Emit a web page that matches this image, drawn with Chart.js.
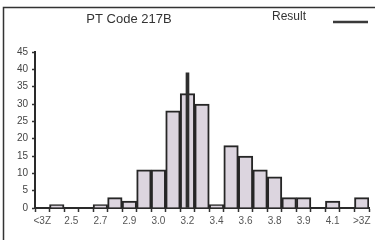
<!DOCTYPE html>
<html lang="en">
<head>
    <meta charset="UTF-8">
    <title>PT Code 217B</title>
    <script src="https://cdn.jsdelivr.net/npm/chart.js"></script>
    <style>
        html, body { margin: 0; padding: 0; background: #ffffff; }
        #wrap { width: 375px; height: 240px; }
    </style>
</head>
<body>
    <div id="wrap"><canvas id="histChart" width="375" height="240"></canvas></div>

    <script>
        // Datos del histograma (una barra por intervalo)
        const binLabels = ['<3Z', '', '2.5', '', '2.7', '', '2.9', '', '3.0', '', '3.2', '',
                           '3.4', '', '3.6', '', '3.8', '', '3.9', '', '4.1', '', '>3Z'];
        const counts = [0, 1, 0, 0, 1, 3, 2, 11, 11, 28, 33, 30,
                        1, 18, 15, 11, 9, 3, 3, 0, 2, 0, 3];
        // Resultado del participante: solo en el intervalo 3.2
        const resultValues = [null, null, null, null, null, null, null, null, null, null, 39, null,
                              null, null, null, null, null, null, null, null, null, null, null];
        const yTicks = [0, 5, 10, 15, 20, 25, 30, 35, 40, 45];

        const titleText = 'PT Code 217B';
        const legendText = 'Result';

        // Marco y cabecera (titulo + leyenda con linea a la derecha)
        const headerPlugin = {
            id: 'header',
            afterDraw(chart) {
                const ctx = chart.ctx;
                ctx.save();
                ctx.strokeStyle = '#333';
                ctx.lineWidth = 1.5;
                ctx.beginPath();
                ctx.moveTo(3.5, 240);
                ctx.lineTo(3.5, 7.5);
                ctx.lineTo(375, 7.5);
                ctx.stroke();

                ctx.fillStyle = '#333';
                ctx.textBaseline = 'middle';
                ctx.font = '13px "Liberation Sans", Arial, sans-serif';
                ctx.textAlign = 'center';
                ctx.fillText(titleText, 129, 19);
                ctx.font = '12px "Liberation Sans", Arial, sans-serif';
                ctx.textAlign = 'left';
                ctx.fillText(legendText, 272, 17);

                ctx.strokeStyle = '#3a3a3a';
                ctx.lineWidth = 2.5;
                ctx.beginPath();
                ctx.moveTo(333, 22);
                ctx.lineTo(368, 22);
                ctx.stroke();
                ctx.restore();
            }
        };

        const ctx = document.getElementById('histChart').getContext('2d');
        new Chart(ctx, {
            type: 'bar',
            data: {
                labels: binLabels,
                datasets: [
                    {
                        label: legendText,
                        data: resultValues,
                        backgroundColor: '#2e2e2e',
                        borderWidth: 0,
                        barThickness: 3,
                        grouped: false,
                        order: 0
                    },
                    {
                        label: 'Count',
                        data: counts,
                        backgroundColor: '#dcd5df',
                        borderColor: '#262626',
                        borderWidth: 2,
                        categoryPercentage: 1.0,
                        barPercentage: 1.0,
                        grouped: false,
                        order: 1
                    }
                ]
            },
            options: {
                responsive: false,
                animation: false,
                devicePixelRatio: 1,
                layout: { padding: { left: 8, right: 6, top: 52, bottom: 0 } },
                plugins: {
                    legend: { display: false },
                    title: { display: false },
                    tooltip: { enabled: false }
                },
                scales: {
                    x: {
                        grid: {
                            drawOnChartArea: false,
                            offset: true,
                            tickLength: 4,
                            tickColor: '#333',
                            tickWidth: 1.5
                        },
                        border: { color: '#2a2a2a', width: 2 },
                        ticks: {
                            autoSkip: false,
                            maxRotation: 0,
                            color: '#555',
                            padding: 3,
                            font: { family: '"Liberation Sans", Arial, sans-serif', size: 10 }
                        },
                        afterFit(scale) { scale.height = 32; }
                    },
                    y: {
                        min: 0,
                        max: 45,
                        afterBuildTicks(scale) {
                            scale.ticks = yTicks.map(v => ({ value: v }));
                        },
                        grid: {
                            drawOnChartArea: false,
                            tickLength: 3,
                            tickColor: '#333',
                            tickWidth: 1.5
                        },
                        border: { color: '#2a2a2a', width: 2 },
                        ticks: {
                            color: '#444',
                            padding: 4,
                            font: { family: '"Liberation Sans", Arial, sans-serif', size: 10 }
                        },
                        afterFit(scale) { scale.width = 27; }
                    }
                }
            },
            plugins: [headerPlugin]
        });
    </script>
</body>
</html>
